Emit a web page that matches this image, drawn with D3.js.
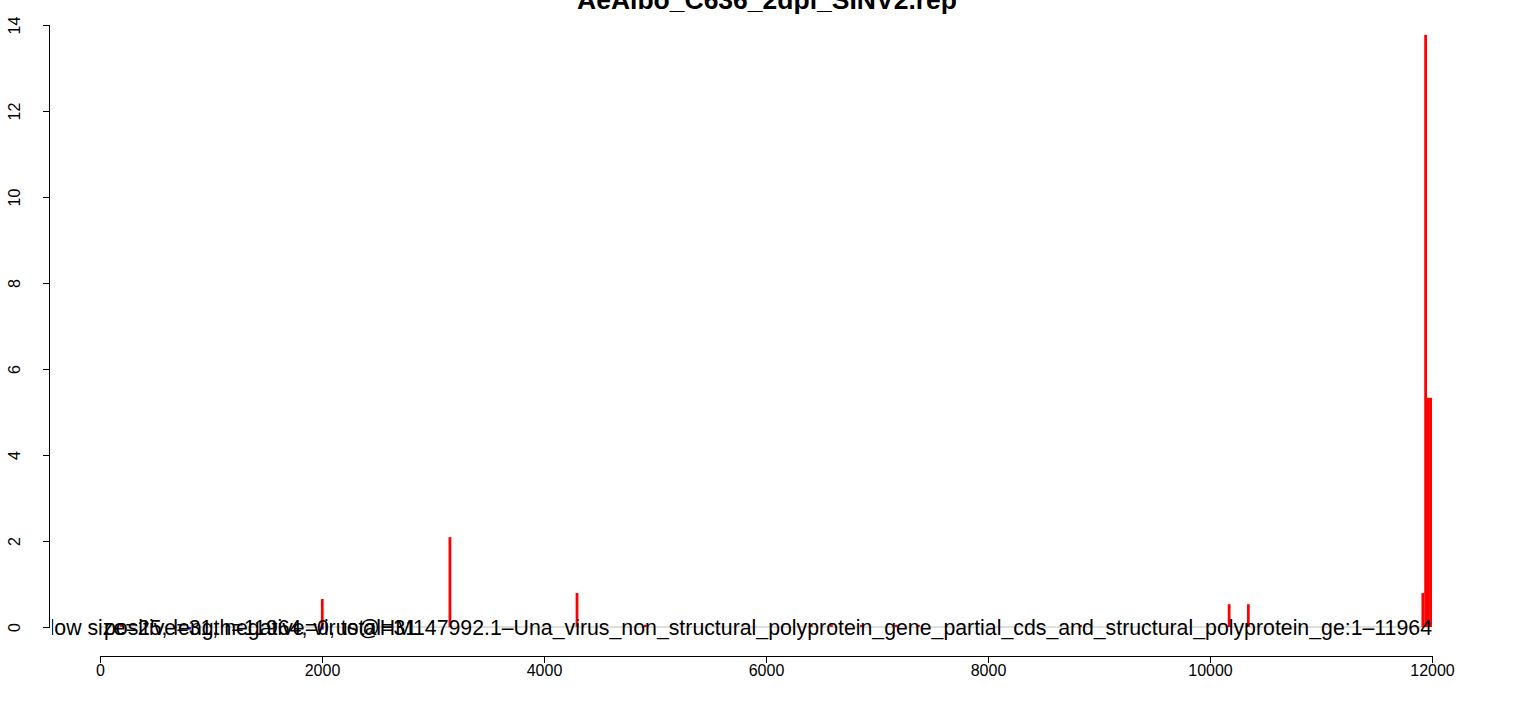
<!DOCTYPE html>
<html>
<head>
<meta charset="utf-8">
<script src="https://cdn.jsdelivr.net/npm/d3@7"></script>
<style>
  body { margin: 0; background: #fff; }
  svg { display: block; font-family: "Liberation Sans", Arial, sans-serif; }
</style>
</head>
<body>
<div id="chart-area"></div>
<script>
// small-RNA coverage by window (window size 25)
var seqLength = 11964;
var windowSize = 25;

// positive strand windows: start position, value
var posStart = [180, 1990, 3140, 4285, 4900, 6396, 6577, 6847, 7162, 7360, 8820, 10160, 10333, 11905, 11930, 11955, 11975];
var posValue = [0.06, 0.65, 2.09, 0.79, 0.05, 0.05, 0.05, 0.05, 0.05, 0.05, 0.05, 0.53, 0.53, 0.79, 13.77, 5.33, 5.33];

// negative strand windows
var negStart = [793, 1990];
var negValue = [-0.06, -0.06];

var xTicks = [0, 2000, 4000, 6000, 8000, 10000, 12000];
var yTicks = [0, 2, 4, 6, 8, 10, 12, 14];

var title = "AeAlbo_C636_2dpi_SINV2.rep";
var infoText = "positive=31, negative=0, total=31";
var nameText = "Window size=25, length=11964, virus@HM147992.1\u2013Una_virus_non_structural_polyprotein_gene_partial_cds_and_structural_polyprotein_ge:1\u201311964";

var W = 1536, H = 707;

var svg = d3.select("#chart-area").append("svg")
	.attr("width", W)
	.attr("height", H);

// scales
var x = d3.scaleLinear().domain([0, 12000]).range([100, 1432]);
var y = d3.scaleLinear().domain([0, 14]).range([627, 25]);

// plot region clip (R clips text to plot area)
var plotLeft = 52, plotRight = x(12442);
svg.append("clipPath").attr("id", "plotclip")
	.append("rect")
		.attr("x", plotLeft).attr("y", 0)
		.attr("width", plotRight - plotLeft).attr("height", H);

var plot = svg.append("g").attr("clip-path", "url(#plotclip)");

// grey baseline
plot.append("line")
	.attr("x1", x(1)).attr("x2", x(seqLength))
	.attr("y1", y(0)).attr("y2", y(0))
	.attr("stroke", "#bebebe")
	.attr("stroke-width", 1);

var posData = posStart.map(function(s, i){ return {start: s, value: posValue[i]}; });
var negData = negStart.map(function(s, i){ return {start: s, value: negValue[i]}; });

plot.selectAll("rect.pos")
	.data(posData)
	.enter().append("rect")
		.attr("class", "pos")
		.attr("x", function(d){ return x(d.start); })
		.attr("width", function(d){ return x(d.start + windowSize) - x(d.start); })
		.attr("y", function(d){ return y(d.value); })
		.attr("height", function(d){ return y(0) - y(d.value); })
		.attr("fill", "#ff0000");

plot.selectAll("rect.neg")
	.data(negData)
	.enter().append("rect")
		.attr("class", "neg")
		.attr("x", function(d){ return x(d.start); })
		.attr("width", function(d){ return x(d.start + windowSize) - x(d.start); })
		.attr("y", y(0))
		.attr("height", function(d){ return y(d.value) - y(0); })
		.attr("fill", "#0000ff");

// overlapping annotation texts
plot.append("text")
	.attr("x", x(12000))
	.attr("y", 634.5)
	.attr("text-anchor", "end")
	.attr("font-size", "21.3px")
	.attr("fill", "#000")
	.text(nameText);

plot.append("text")
	.attr("x", 104)
	.attr("y", 634.5)
	.attr("font-size", "21.3px")
	.attr("fill", "#000")
	.text(infoText);

// x axis
var xAxis = svg.append("g")
	.attr("transform", "translate(0,656)")
	.call(d3.axisBottom(x).tickValues(xTicks).tickSize(7).tickPadding(2).tickFormat(d3.format("d")));
xAxis.select(".domain").attr("d", "M" + x(0) + ",0.5H" + x(12000)).attr("stroke", "#000");
xAxis.selectAll(".tick line").attr("stroke", "#000");
xAxis.selectAll("text").attr("font-size", "16px").attr("font-family", "Liberation Sans, Arial, sans-serif").attr("fill", "#000");

// y axis
var yAxis = svg.append("g")
	.attr("transform", "translate(50,0)")
	.call(d3.axisLeft(y).tickValues(yTicks).tickSize(7).tickFormat(d3.format("d")));
yAxis.select(".domain").attr("d", "M-0.5," + y(0) + "V" + y(14)).attr("stroke", "#000");
yAxis.selectAll(".tick line").attr("stroke", "#000");
yAxis.selectAll(".tick text")
	.attr("font-size", "16px")
	.attr("font-family", "Liberation Sans, Arial, sans-serif")
	.attr("fill", "#000")
	.attr("x", null).attr("dy", null)
	.attr("text-anchor", "middle")
	.attr("transform", "translate(-36,0) rotate(-90)")
	.attr("y", 0)
	.attr("dominant-baseline", "central");

// title, partly above the page edge
svg.append("text")
	.attr("x", 767)
	.attr("y", 9)
	.attr("text-anchor", "middle")
	.attr("font-size", "26.5px")
	.attr("font-weight", "bold")
	.attr("fill", "#000")
	.text(title);
</script>
</body>
</html>
